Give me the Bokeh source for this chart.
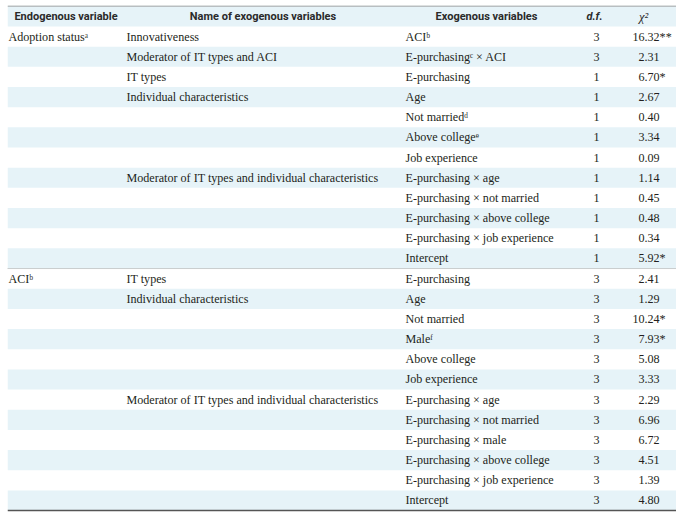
from bokeh.plotting import figure
from bokeh.models import Range1d
from bokeh.embed import file_html
from bokeh.resources import INLINE
from bokeh.core.properties import value

# ---------------- data ----------------
headers = ["Endogenous variable", "Name of exogenous variables", "Exogenous variables", "d.f.", "\u03c7\u00b2"]

endogenous = ["Adoption status\u1d43", "ACI\u1d47"]
endogenous_rows = [1, 13]

names = ["Innovativeness", "Moderator of IT types and ACI", "IT types",
         "Individual characteristics",
         "Moderator of IT types and individual characteristics",
         "IT types", "Individual characteristics",
         "Moderator of IT types and individual characteristics"]
name_rows = [1, 2, 3, 4, 8, 13, 14, 19]

exogenous = ["ACI\u1d47", "E-purchasing\u1d9c \u00d7 ACI", "E-purchasing", "Age",
             "Not married\u1d48", "Above college\u1d49", "Job experience",
             "E-purchasing \u00d7 age", "E-purchasing \u00d7 not married",
             "E-purchasing \u00d7 above college", "E-purchasing \u00d7 job experience",
             "Intercept",
             "E-purchasing", "Age", "Not married", "Male\u1da0", "Above college",
             "Job experience", "E-purchasing \u00d7 age", "E-purchasing \u00d7 not married",
             "E-purchasing \u00d7 male", "E-purchasing \u00d7 above college",
             "E-purchasing \u00d7 job experience", "Intercept"]

dfs = [3, 3, 1, 1, 1, 1, 1, 1, 1, 1, 1, 1,
       3, 3, 3, 3, 3, 3, 3, 3, 3, 3, 3, 3]

chi2 = ["16.32**", "2.31", "6.70*", "2.67", "0.40", "3.34", "0.09", "1.14",
        "0.45", "0.48", "0.34", "5.92*",
        "2.41", "1.29", "10.24*", "7.93*", "5.08", "3.33", "2.29", "6.96",
        "6.72", "4.51", "1.39", "4.80"]

group_break_after = 12

# ---------------- layout ----------------
W, H = 669, 512
HEAD_H = 21
ROW_H = 20.17
n = len(exogenous)

def yc(k):
    return HEAD_H + (k - 0.5) * ROW_H

p = figure(width=W, height=H, output_backend="svg", toolbar_location=None,
           x_range=Range1d(0, W), y_range=Range1d(H, 0),
           min_border=0, margin=(5, 0, 0, 7))
p.axis.visible = False
p.grid.visible = False
p.outline_line_color = None
p.background_fill_color = "white"
p.border_fill_color = "white"

BLUE = "#e6f3f8"
# header band
p.quad(left=[0], right=[W], top=[0], bottom=[HEAD_H], fill_color=BLUE, line_color=None)
# stripes
stripe_rows = [k for k in range(1, n + 1) if k % 2 == 0]
p.quad(left=[0] * len(stripe_rows), right=[W] * len(stripe_rows),
       top=[HEAD_H + (k - 1) * ROW_H for k in stripe_rows],
       bottom=[HEAD_H + k * ROW_H for k in stripe_rows],
       fill_color=BLUE, line_color=None)

# rules
p.line([0, W], [0.5, 0.5], line_color="#8a8a8a", line_width=1)
yb = HEAD_H + n * ROW_H
p.line([0, W], [yb, yb], line_color="#555555", line_width=1.5)
yd = HEAD_H + group_break_after * ROW_H
p.line([0, W], [yd, yd], line_color="#a0a0a0", line_width=1, line_dash="1 1")

SERIF = value("Liberation Serif")
SANS = value("Roboto")
TXT = "#231f20"
FS = "12.1px"
HFS = "11px"

# headers
hx = [58.5, 255.5, 479, 587, 636]
p.text(x=hx[:3], y=[HEAD_H / 2 + 0.5] * 3, text=headers[:3], text_font=SANS,
       text_font_size=HFS, text_font_style="bold", text_color="#2a2a2a",
       text_align="center", text_baseline="middle")
p.text(x=[hx[3]], y=[HEAD_H / 2 + 0.5], text=[headers[3]], text_font=SANS,
       text_font_size=HFS, text_font_style="bold italic", text_color="#2a2a2a",
       text_align="center", text_baseline="middle")
p.text(x=[hx[4]], y=[HEAD_H / 2 + 0.5], text=[headers[4]], text_font=SERIF,
       text_font_size="12.5px", text_font_style="italic", text_color="#2a2a2a",
       text_align="center", text_baseline="middle")

# column 1
p.text(x=[1] * len(endogenous), y=[yc(k) for k in endogenous_rows], text=endogenous,
       text_font=SERIF, text_font_size=FS, text_color=TXT, text_baseline="middle")
# column 2
p.text(x=[119] * len(names), y=[yc(k) for k in name_rows], text=names,
       text_font=SERIF, text_font_size=FS, text_color=TXT, text_baseline="middle")
# column 3
rows = list(range(1, n + 1))
p.text(x=[398] * n, y=[yc(k) for k in rows], text=exogenous,
       text_font=SERIF, text_font_size=FS, text_color=TXT, text_baseline="middle")
# d.f.
p.text(x=[589] * n, y=[yc(k) for k in rows], text=[str(d) for d in dfs],
       text_font=SERIF, text_font_size=FS, text_color=TXT, text_align="center",
       text_baseline="middle")
# chi2, decimal aligned
ints = [c.split(".")[0] for c in chi2]
fracs = ["." + c.split(".")[1] for c in chi2]
XDEC = 637
p.text(x=[XDEC] * n, y=[yc(k) for k in rows], text=ints,
       text_font=SERIF, text_font_size=FS, text_color=TXT, text_align="right",
       text_baseline="middle")
p.text(x=[XDEC] * n, y=[yc(k) for k in rows], text=fracs,
       text_font=SERIF, text_font_size=FS, text_color=TXT, text_align="left",
       text_baseline="middle")

open("out.html", "w").write(file_html(p, INLINE))
